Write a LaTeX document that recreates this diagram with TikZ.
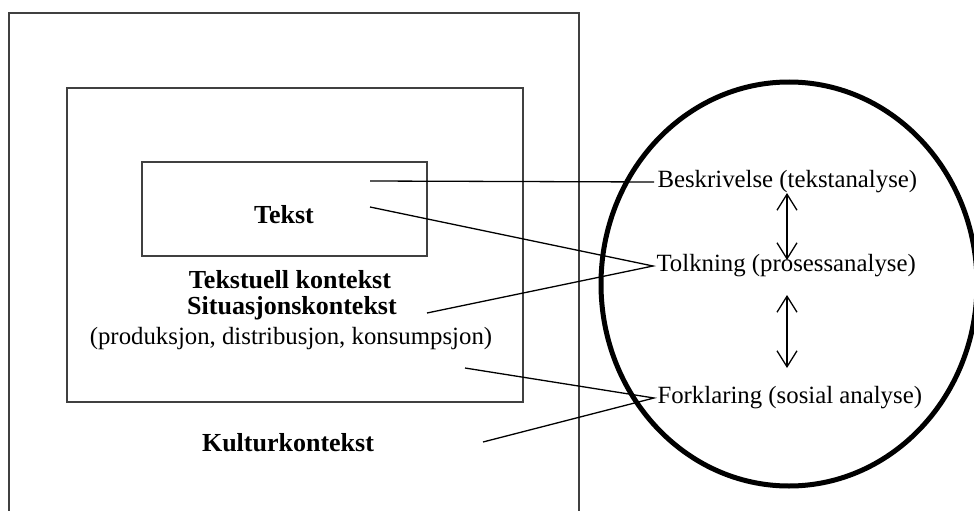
\documentclass[tikz,border=0pt]{standalone}
\usepackage{fontspec}
\setmainfont{Liberation Serif}
\usetikzlibrary{arrows.meta}

\begin{document}
\begin{tikzpicture}[x=1pt, y=-1pt,
	boks/.style={draw=black!75, line width=1.5pt},
	etikett/.style={font=\fontsize{24.8}{29}\selectfont},
	tittel/.style={font=\fontsize{26}{30}\selectfont\bfseries},
	linje/.style={line width=1.3pt},
	pil/.style={line width=1.3pt,
		{Straight Barb[length=16pt,width=20pt]}-{Straight Barb[length=16pt,width=20pt]}}]
\useasboundingbox (0,0) rectangle (974,511);
\clip (0,0) rectangle (974,511);

% rammer
\draw[boks] (9,13) rectangle (579,530);
\draw[boks] (67,88) rectangle (523,402);
\draw[boks] (142,162) rectangle (427,256);
\draw[line width=5pt] (789,284) ellipse (188 and 202);

% tekst i rammene
\node[tittel] (tekst) at (284,215) {Tekst};
\node[tittel] (tekstuell) at (290,280) {Tekstuell kontekst};
\node[tittel] (situasjon) at (292,308) {Situasjonskontekst};
\node[etikett] (prosess) at (291,339) {(produksjon, distribusjon, konsumpsjon)};
\node[tittel] (kultur) at (288,443) {Kulturkontekst};

% analysenivaa
\node[etikett, anchor=west] (beskrivelse) at (654,182) {Beskrivelse (tekstanalyse)};
\node[etikett, anchor=west] (tolkning) at (653,266) {Tolkning (prosessanalyse)};
\node[etikett, anchor=west] (forklaring) at (654,398) {Forklaring (sosial analyse)};

\coordinate (b0) at (370,181);
\coordinate (t0) at (370,207);
\coordinate (s0) at (427,313);
\coordinate (f0) at (465,368);
\coordinate (f1) at (483,442);

\draw[linje] (b0) -- (beskrivelse.west);
\draw[linje] (t0) -- (tolkning.west) -- (s0);
\draw[linje] (f0) -- (forklaring.west) -- (f1);

\coordinate (p1) at (787,193);
\coordinate (p2) at (787,260);
\coordinate (p3) at (787,295);
\coordinate (p4) at (787,368);

\draw[pil] (p1) -- (p2);
\draw[pil] (p3) -- (p4);

\end{tikzpicture}
\end{document}
